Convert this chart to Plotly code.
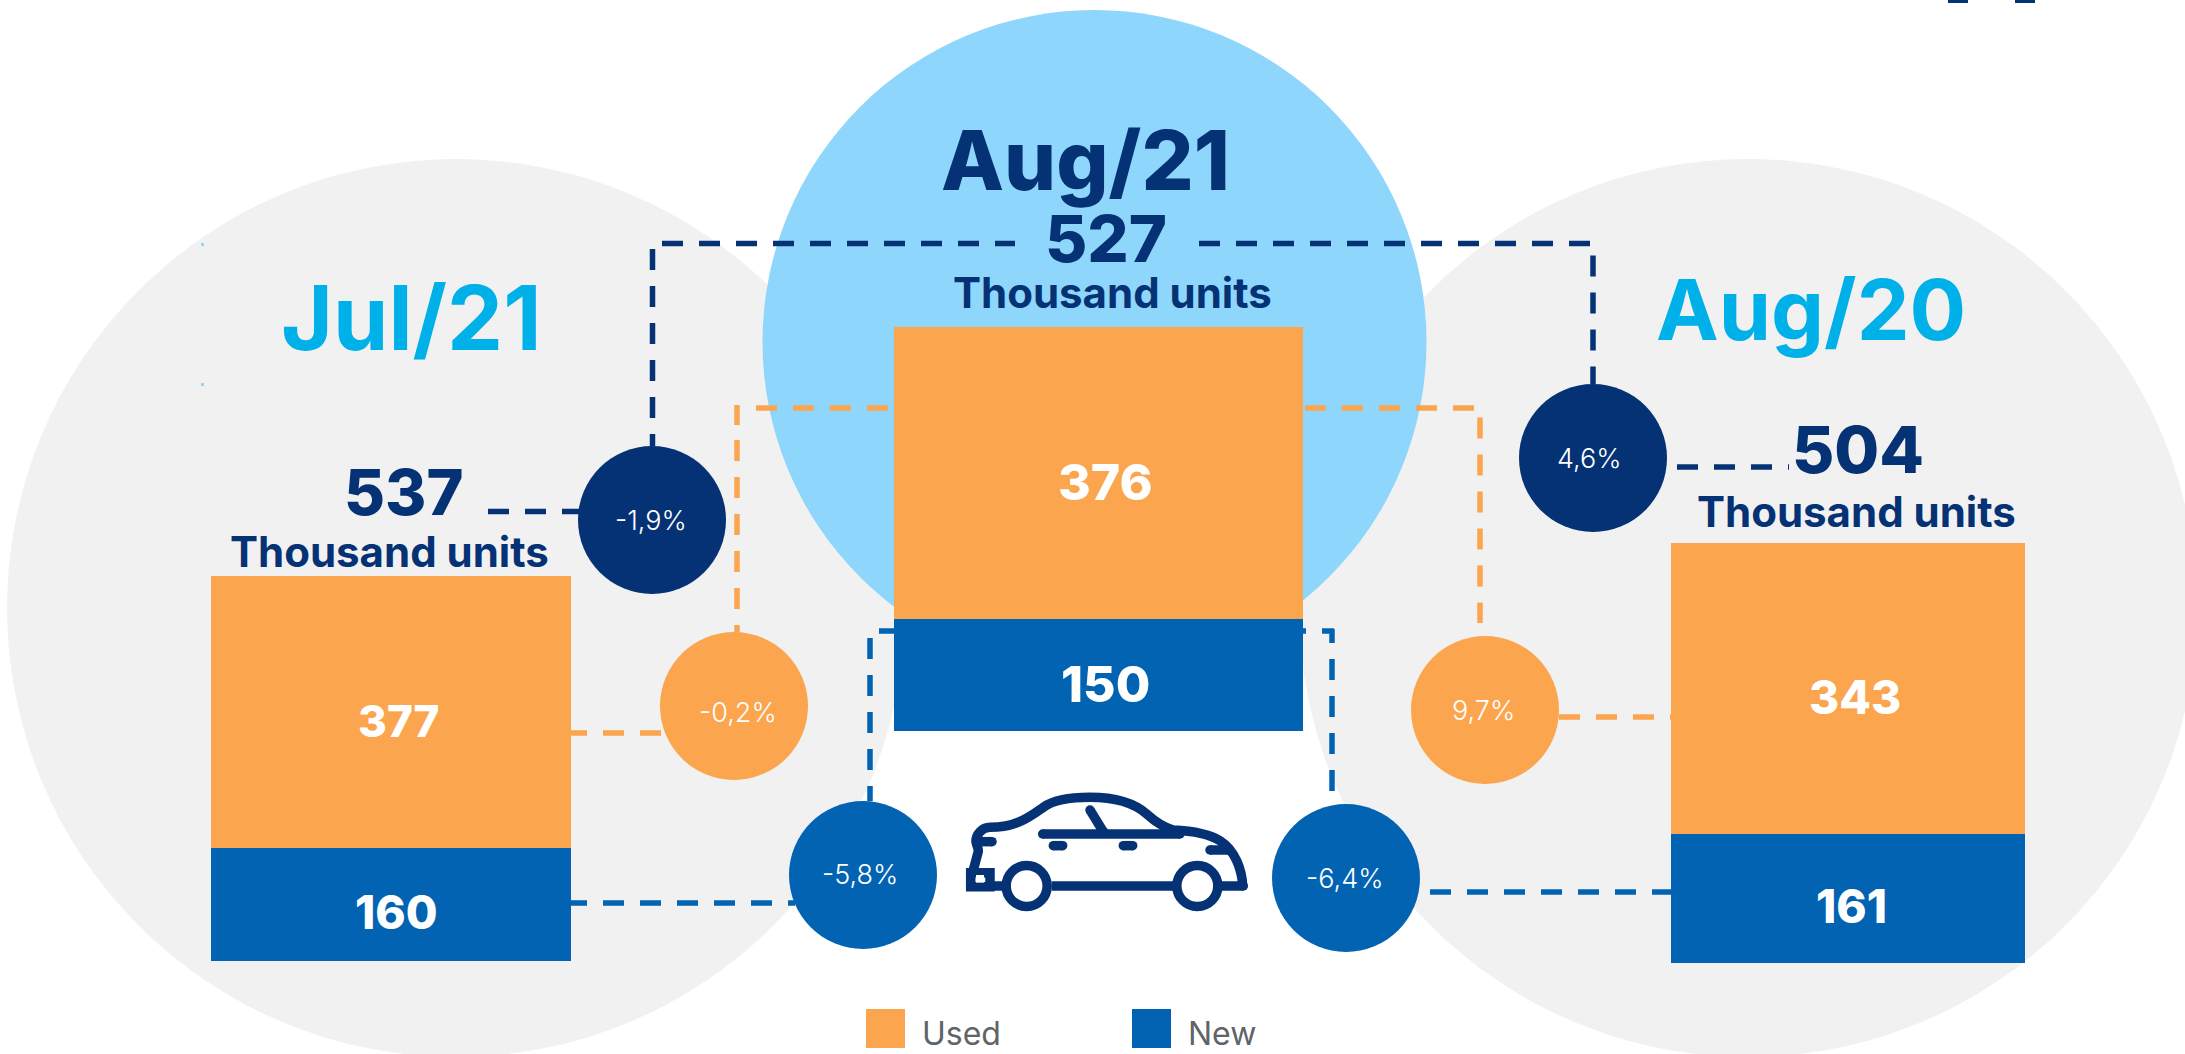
import re
import plotly.graph_objects as go

W, H = 2185, 1054

# ---- data ----
periods = ["Jul/21", "Aug/21", "Aug/20"]
used_units = [377, 376, 343]
new_units = [160, 150, 161]
total_units = [537, 527, 504]
unit_label = "Thousand units"
series_names = ["Used", "New"]
change_total = ["-1,9%", "4,6%"]
change_used = ["-0,2%", "9,7%"]
change_new = ["-5,8%", "-6,4%"]

# ---- style ----
GRAY = "#F1F1F1"
SKY = "#8ED6FB"
ORANGE = "#FBA54F"
BLUE = "#0263B3"
NAVY = "#053274"
CYAN = "#00B0E8"
FONT = "Inter"

# ---- layout constants (pixels) ----
panels = [
    dict(x0=211, x1=571, top=576, split=848, bot=961),
    dict(x0=894, x1=1303, top=327, split=619, bot=731),
    dict(x0=1671, x1=2025, top=543, split=834, bot=963),
]

def px(x):
    return x / W

def py(y):
    return 1 - y / H

shapes = []

def circle(cx, cy, r, fill, line=None, lw=0):
    shapes.append(dict(type="circle", xref="paper", yref="paper", layer="below",
                       x0=px(cx - r), x1=px(cx + r), y0=py(cy + r), y1=py(cy - r),
                       fillcolor=fill, line=dict(width=lw, color=line or fill)))

def rect(x0, y0, x1, y1, fill):
    shapes.append(dict(type="rect", xref="paper", yref="paper", layer="below",
                       x0=px(x0), x1=px(x1), y0=py(y1), y1=py(y0),
                       fillcolor=fill, line=dict(width=0)))

def dashed(x0, y0, x1, y1, color):
    shapes.append(dict(type="line", xref="paper", yref="paper", layer="below",
                       x0=px(x0), x1=px(x1), y0=py(y0), y1=py(y1),
                       line=dict(color=color, width=5.5, dash="21px,16px")))

def stroke_path(d, color=NAVY, width=9.5, fill=None):
    def conv(m):
        return f"{px(float(m.group(1))):.6f},{py(float(m.group(2))):.6f}"
    path = re.sub(r"(-?[\d.]+),(-?[\d.]+)", conv, d)
    s = dict(type="path", xref="paper", yref="paper", layer="below", path=path,
             line=dict(color=color, width=width))
    if fill:
        s["fillcolor"] = fill
    shapes.append(s)

def seg(x0, y0, x1, y1, width=9.5, color=NAVY):
    stroke_path(f"M{x0},{y0} L{x1},{y1}", color=color, width=width)
    circle(x0, y0, width / 2, color)
    circle(x1, y1, width / 2, color)

# background discs
circle(456, 608, 449, GRAY)
circle(1748, 608, 449, GRAY)
circle(1094.5, 342, 332, SKY)

# stray marks visible in the reference
rect(201, 243, 204, 246, SKY)
rect(201, 383, 204, 386, SKY)
rect(1948, 0, 1968, 3, NAVY)
rect(2015, 0, 2035, 3, NAVY)

# connectors
dashed(662, 243.5, 1015, 243.5, NAVY)
dashed(652.5, 249, 652.5, 446, NAVY)
dashed(1199, 243.5, 1590, 243.5, NAVY)
dashed(1593, 255.5, 1593, 384, NAVY)
dashed(488, 511.5, 580, 511.5, NAVY)
dashed(1677, 467, 1789, 467, NAVY)

dashed(756, 408, 889, 408, ORANGE)
dashed(737, 405, 737, 425, ORANGE)
dashed(737, 440, 737, 632, ORANGE)
dashed(1305, 408, 1474, 408, ORANGE)
dashed(1480, 417.5, 1480, 623, ORANGE)
dashed(566, 733, 661, 733, ORANGE)
dashed(1559, 717, 1671, 717, ORANGE)

dashed(870, 638, 870, 801, BLUE)
dashed(879, 631, 894, 631, BLUE)
dashed(1285, 631, 1306, 631, BLUE)
dashed(1322, 631, 1334, 631, BLUE)
dashed(1332, 629, 1332, 643, BLUE)
dashed(1332, 659, 1332, 791, BLUE)
dashed(566, 903, 795, 903, BLUE)
dashed(1430, 892, 1671, 892, BLUE)

# change bubbles
circle(652, 520, 74, NAVY)
circle(1593, 458, 74, NAVY)
circle(734, 706, 74, ORANGE)
circle(1485, 710, 74, ORANGE)
circle(863, 875, 74, BLUE)
circle(1346, 878, 74, BLUE)

# car icon (stroke drawing)
cx = lambda v: 940 + v / 3
cy = lambda v: 770 + v / 3

def Z(d):
    def conv(m):
        return f"{cx(float(m.group(1))):.1f},{cy(float(m.group(2))):.1f}"
    return re.sub(r"(-?[\d.]+),(-?[\d.]+)", conv, d)

stroke_path(Z("M908,348 C906,300 885,240 840,212 C800,187 745,182 700,180 C670,172 640,150 620,132 "
              "C580,97 520,82 450,82 C390,82 340,90 310,112 C270,140 230,172 150,172 "
              "C125,172 107,195 108,215 C110,230 118,235 114,248 L100,300"))
seg(cx(308), cy(192), cx(720), cy(192))
stroke_path(Z("M335,348 L700,348"))
stroke_path(Z("M150,348 L190,348"))
stroke_path(Z("M845,348 L910,348"))
seg(cx(450), cy(120), cx(490), cy(185))
seg(cx(340), cy(227), cx(368), cy(227))
seg(cx(550), cy(227), cx(578), cy(227))
seg(cx(810), cy(240), cx(868), cy(240))
seg(cx(112), cy(215), cx(156), cy(215))
circle(cx(910), cy(348), 4.75, NAVY)
stroke_path(Z("M92,308 L150,308 L150,350 L92,350 Z"), fill="#FFFFFF")
rect(cx(108), cy(315), cx(132), cy(338), "#FFFFFF")
circle(cx(260), cy(348), 20.5, "#FFFFFF", NAVY, 9.5)
circle(cx(772), cy(348), 20.5, "#FFFFFF", NAVY, 9.5)

# legend swatches
rect(866, 1009, 905, 1048, ORANGE)
rect(1132, 1009, 1171, 1048, BLUE)

# ---- annotations ----
ann = []

def text(s, x, y, size, color, weight=800):
    ann.append(dict(text=s, x=px(x), y=py(y), xref="paper", yref="paper",
                    xanchor="center", yanchor="middle", showarrow=False,
                    font=dict(family=FONT, size=size, color=color, weight=weight)))

text(periods[0], 411, 317, 89, CYAN, 700)
text(periods[1], 1085, 160, 82, NAVY)
text(periods[2], 1811, 309, 84, CYAN, 700)

text(str(total_units[0]), 403, 492, 63, NAVY)
text(str(total_units[1]), 1106, 238, 65, NAVY)
text(str(total_units[2]), 1858, 449, 65, NAVY)

text(unit_label, 389, 551, 42, NAVY, 700)
text(unit_label, 1112, 292, 42, NAVY, 700)
text(unit_label, 1856, 511, 42, NAVY, 700)

for (x, y), v, s in zip([(399, 721), (1106, 482), (1855, 697)], used_units, [44, 50, 46]):
    text(str(v), x, y, s, "#FFFFFF")
for (x, y), v, s in zip([(396, 912), (1105, 684), (1851, 906)], new_units, [46, 50, 46]):
    text(str(v), x, y, s, "#FFFFFF")

text(change_total[0], 651, 520, 27, "#FFFFFF", 300)
text(change_total[1], 1589, 458, 27, "#FFFFFF", 300)
text(change_used[0], 738, 712, 27, "#FFFFFF", 300)
text(change_used[1], 1483, 710, 27, "#FFFFFF", 300)
text(change_new[0], 860, 874, 27, "#FFFFFF", 300)
text(change_new[1], 1344, 878, 27, "#FFFFFF", 300)

text(series_names[0], 961, 1033, 32, "#5F6468", 400)
text(series_names[1], 1222, 1033, 32, "#5F6468", 400)

# ---- bars, one scale per panel ----
fig = go.Figure()
layout_axes = {}
for i, (p, period, u, n) in enumerate(zip(panels, periods, used_units, new_units), start=1):
    sfx = "" if i == 1 else str(i)
    fig.add_trace(go.Bar(x=[period], y=[n], name=series_names[1], marker=dict(color=BLUE, line=dict(width=0)),
                         xaxis=f"x{sfx}", yaxis=f"y{sfx}", showlegend=False))
    fig.add_trace(go.Bar(x=[period], y=[u], name=series_names[0], marker=dict(color=ORANGE, line=dict(width=0)),
                         xaxis=f"x{sfx}", yaxis=f"y{sfx}", showlegend=False))
    slope = (p["split"] - p["top"]) / u
    lo = n - (p["bot"] - p["split"]) / slope
    layout_axes[f"xaxis{sfx}"] = dict(domain=[px(p["x0"]), px(p["x1"])], visible=False,
                                      anchor=f"y{sfx}", fixedrange=True)
    layout_axes[f"yaxis{sfx}"] = dict(domain=[py(p["bot"]), py(p["top"])], visible=False,
                                      range=[lo, n + u], anchor=f"x{sfx}", fixedrange=True)

fig.update_layout(
    width=W, height=H, margin=dict(l=0, r=0, t=0, b=0), autosize=False,
    paper_bgcolor="#FFFFFF", plot_bgcolor="rgba(0,0,0,0)",
    barmode="stack", bargap=0, showlegend=False,
    shapes=shapes, annotations=ann,
    font=dict(family=FONT),
    **layout_axes,
)
fig.write_html("out.html", config=dict(displayModeBar=False),
               post_script="document.body.style.margin='0';document.body.style.overflow='hidden';")
